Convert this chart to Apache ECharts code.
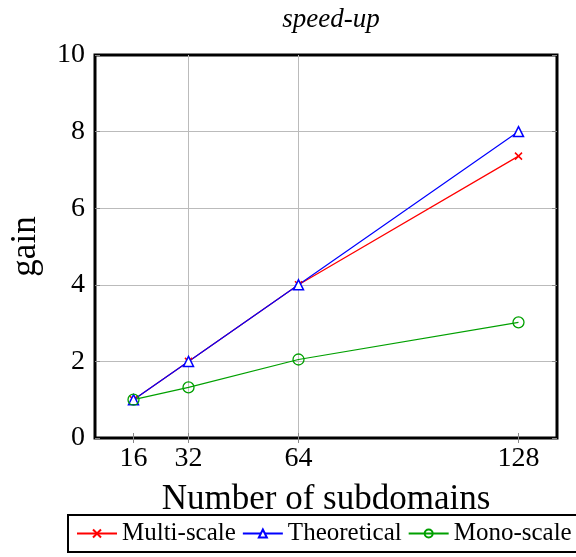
<!DOCTYPE html>
<html><head><meta charset="utf-8">
<script src="https://cdn.jsdelivr.net/npm/echarts@6/dist/echarts.min.js"></script>
<style>html,body{margin:0;padding:0;background:#fff}#c{width:576px;height:557px}</style>
</head><body><div id="c"></div>
<script>
const subdomains = [16, 32, 64, 128];
const multiScale = [1, 2, 4, 7.36];
const theoretical = [1, 2, 4, 8];
const monoScale = [1, 1.32, 2.05, 3.02];
const yTicks = [0, 2, 4, 6, 8, 10];

const FONT = 'Liberation Serif';
const pairs = v => subdomains.map((x, i) => [x, v[i]]);
const xMark = 'path://M0,0L10,10M10,0L0,10';
const tickStyle = {show: true, inside: true, length: 5, lineStyle: {color: '#888'}};
const gridLine = {show: true, showMinLine: false, showMaxLine: false, lineStyle: {color: '#bbb', width: 1}};
const XMIN = 4.8, XMAX = 139.2;

const chart = echarts.init(document.getElementById('c'));
chart.setOption({
  animation: false,
  backgroundColor: '#fff',
  title: {
    text: 'speed-up', left: 326, top: 1, textAlign: 'center',
    textStyle: {fontFamily: FONT, fontStyle: 'italic', fontWeight: 'normal', fontSize: 27, color: '#000'}
  },
  grid: {left: 95, right: 19, top: 55, bottom: 119, show: true, borderColor: '#000', borderWidth: 3, backgroundColor: 'transparent'},
  xAxis: [{
    type: 'value', min: XMIN, max: XMAX, position: 'bottom',
    name: 'Number of subdomains', nameLocation: 'middle', nameGap: 44,
    nameTextStyle: {fontFamily: FONT, fontSize: 35, color: '#000'},
    axisLine: {show: false}, axisTick: Object.assign({customValues: subdomains}, tickStyle),
    axisLabel: {customValues: subdomains, fontFamily: FONT, fontSize: 28, color: '#000', margin: 7},
    splitLine: gridLine
  }, {
    type: 'value', min: XMIN, max: XMAX, position: 'top',
    axisLine: {show: false}, axisTick: Object.assign({customValues: subdomains}, tickStyle),
    axisLabel: {show: false, customValues: subdomains}, splitLine: {show: false}
  }],
  yAxis: [{
    type: 'value', min: 0, max: 10, interval: 2, position: 'left',
    name: 'gain', nameLocation: 'middle', nameGap: 52,
    nameTextStyle: {fontFamily: FONT, fontSize: 35, color: '#000'},
    axisLine: {show: false}, axisTick: tickStyle,
    axisLabel: {fontFamily: FONT, fontSize: 28, color: '#000', margin: 10},
    splitLine: gridLine
  }, {
    type: 'value', min: 0, max: 10, interval: 2, position: 'right',
    axisLine: {show: false}, axisTick: tickStyle,
    axisLabel: {show: false}, splitLine: {show: false}
  }],
  legend: {
    left: 68, top: 515, width: 700, padding: [6, 8, 6, 8], itemGap: 6, itemWidth: 40, itemHeight: 10,
    borderColor: '#000', borderWidth: 2, borderRadius: 0,
    textStyle: {fontFamily: FONT, fontSize: 25, color: '#000', padding: [0, 0, 0, 0]},
    data: ['Multi-scale', 'Theoretical', 'Mono-scale']
  },
  series: [
    {name: 'Multi-scale', type: 'line', data: pairs(multiScale), color: '#ff0000',
     symbol: xMark, symbolSize: 7, lineStyle: {width: 1.2, color: '#ff0000'},
     itemStyle: {color: 'none', borderColor: '#ff0000', borderWidth: 1.5}},
    {name: 'Theoretical', type: 'line', data: pairs(theoretical), color: '#0000ff',
     symbol: 'triangle', symbolSize: 10, lineStyle: {width: 1.2, color: '#0000ff'},
     itemStyle: {color: '#fff', borderColor: '#0000ff', borderWidth: 1.5}},
    {name: 'Mono-scale', type: 'line', data: pairs(monoScale), color: '#00a000',
     symbol: 'circle', symbolSize: 11, lineStyle: {width: 1.2, color: '#00a000'},
     itemStyle: {color: 'none', borderColor: '#00a000', borderWidth: 1.3}}
  ]
});
</script></body></html>
